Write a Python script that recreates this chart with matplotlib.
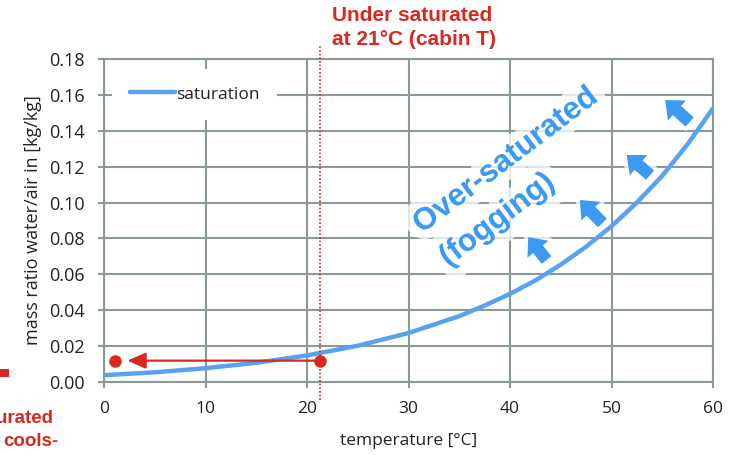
import matplotlib
matplotlib.use("Agg")
import matplotlib.pyplot as plt
import matplotlib.patheffects as pe
from matplotlib.patches import Rectangle

# ---- data ----
temperature = [0, 5, 10, 15, 20, 25, 30, 35, 37.5, 40, 42.5, 45, 47.5,
               50, 52.5, 55, 57.5, 60]
saturation = [0.0038, 0.0054, 0.0077, 0.0107, 0.0148, 0.0202, 0.0273,
              0.0367, 0.0426, 0.0491, 0.0566, 0.0654, 0.0754,
              0.0868, 0.1000, 0.1149, 0.1325, 0.1525]
x_ticks = [0, 10, 20, 30, 40, 50, 60]
y_ticks = [0.00, 0.02, 0.04, 0.06, 0.08, 0.10, 0.12, 0.14, 0.16, 0.18]
cabin_T = 21.3
cabin_ratio = 0.0119
cooled_T = 1.1
arrow_tip_T = 2.3
fog_arrows = [((43.6, 0.0680), (41.8, 0.0808)),
              ((49.1, 0.0886), (46.9, 0.1014)),
              ((53.8, 0.1153), (51.5, 0.1265)),
              ((57.7, 0.1449), (55.3, 0.1571))]

RED = "#d9281e"
BLUE = "#3c9af5"
CURVE = "#58a2ef"
GRID = "#8a9994"
TXT = "#222222"

fig = plt.figure(figsize=(7.32, 4.55), dpi=100)
ax = fig.add_axes([104/732, 1-382/455, (713-104)/732, (382-59)/455])

ax.set_xlim(0, 60)
ax.set_ylim(0, 0.18)
ax.set_xticks(x_ticks)
ax.set_yticks(y_ticks)
ax.set_xticklabels([str(v) for v in x_ticks], fontfamily="Open Sans", fontsize=12.5, color=TXT)
ax.set_yticklabels([f"{v:.2f}" for v in y_ticks], fontfamily="Open Sans", fontsize=13, color=TXT)
ax.tick_params(axis="both", direction="out", length=4.5, width=1.5, color=GRID)
ax.tick_params(axis="x", pad=9.5)
ax.tick_params(axis="y", pad=9.5)
ax.grid(True, color=GRID, linewidth=1.5)
ax.set_axisbelow(True)
for s in ax.spines.values():
    s.set_color(GRID)
    s.set_linewidth(1.5)

ax.set_xlabel("temperature [°C]", fontfamily="Open Sans", fontsize=12.5, color=TXT, labelpad=11)
ax.set_ylabel("mass ratio water/air in [kg/kg]", fontfamily="Open Sans", fontsize=13,
              color=TXT, labelpad=5)

ax.plot(temperature, saturation, color=CURVE, linewidth=3.2, label="saturation",
        solid_capstyle="round", zorder=3)

leg = ax.legend(loc="upper left", bbox_to_anchor=(0.005, 0.985), frameon=True,
                fancybox=False, framealpha=1, edgecolor="none", facecolor="white",
                prop={"family": "Open Sans", "size": 12.5}, handlelength=2.6,
                handletextpad=0.1, borderpad=1.0, borderaxespad=0.3)
for t in leg.get_texts():
    t.set_color(TXT)

# red dotted vertical line at cabin temperature (extends beyond axes)
ax.plot([cabin_T, cabin_T], [-0.010, 0.187], color=RED, linestyle=(0, (1, 1.2)),
        linewidth=1.2, clip_on=False, zorder=4)

# red horizontal arrow and dots
ax.annotate("", xy=(arrow_tip_T, cabin_ratio), xytext=(cabin_T, cabin_ratio),
            arrowprops=dict(arrowstyle="-|>,head_length=0.8,head_width=0.35",
                            color=RED, linewidth=1.6, shrinkA=0, shrinkB=0,
                            mutation_scale=14), zorder=5)
ax.plot([cabin_T, cooled_T], [cabin_ratio, cabin_ratio], linestyle="none",
        marker="o", markersize=8, color=RED, zorder=6, clip_on=False)

# blue annotation text
glow = [pe.withStroke(linewidth=14, foreground=(1, 1, 1, 0.75))]
ax.text(31.3, 0.0825, "Over-saturated", rotation=37, rotation_mode="anchor",
        ha="left", va="baseline", color=BLUE, fontsize=22.5, fontweight="bold",
        fontfamily="Liberation Sans", path_effects=glow, zorder=2)
ax.text(33.9, 0.0640, "(fogging)", rotation=37, rotation_mode="anchor",
        ha="left", va="baseline", color=BLUE, fontsize=22.5, fontweight="bold",
        fontfamily="Liberation Sans", path_effects=glow, zorder=2)

arrow_glow = [pe.withStroke(linewidth=6, foreground=(1, 1, 1, 0.75))]
for tail, tip in fog_arrows:
    ax.annotate("", xy=tip, xytext=tail,
                arrowprops=dict(arrowstyle="simple,head_length=0.7,head_width=1.2,tail_width=0.55",
                                color=BLUE, shrinkA=0, shrinkB=0, mutation_scale=16,
                                linewidth=0, path_effects=arrow_glow),
                zorder=4)

# red titles / clipped notes
fig.text(332/732, 1-21/455, "Under saturated", color=RED, fontsize=15,
         fontweight="bold", fontfamily="Liberation Sans", ha="left", va="baseline")
fig.text(332/732, 1-45/455, "at 21°C (cabin T)", color=RED, fontsize=15,
         fontweight="bold", fontfamily="Liberation Sans", ha="left", va="baseline")
fig.text(53/732, 1-423/455, "saturated", color=RED, fontsize=13.5,
         fontweight="bold", fontfamily="Liberation Sans", ha="right", va="baseline")
fig.text(58/732, 1-446/455, "cools-", color=RED, fontsize=13.5,
         fontweight="bold", fontfamily="Liberation Sans", ha="right", va="baseline")
fig.patches.append(Rectangle((0, 1-377/455), 9/732, 8/455, transform=fig.transFigure,
                             facecolor=RED, edgecolor="none"))

fig.savefig("out.png", dpi=100)
